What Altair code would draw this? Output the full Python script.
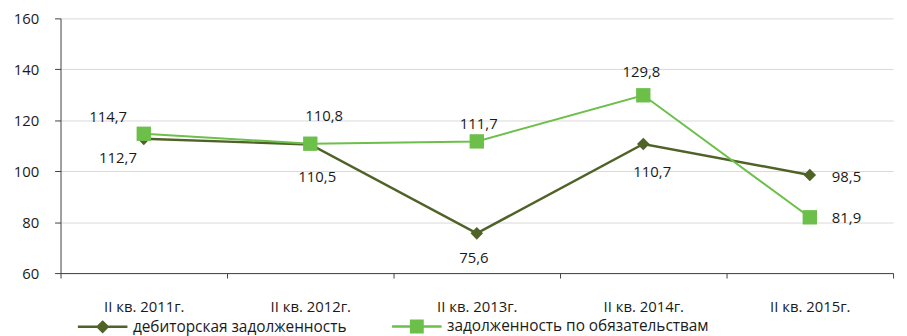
import altair as alt
import pandas as pd

categories = ["II кв. 2011г.", "II кв. 2012г.", "II кв. 2013г.", "II кв. 2014г.", "II кв. 2015г."]
receivables = [112.7, 110.5, 75.6, 110.7, 98.5]
payables = [114.7, 110.8, 111.7, 129.8, 81.9]
series_names = ["дебиторская задолженность", "задолженность по обязательствам"]
y_ticks = [60, 80, 100, 120, 140, 160]

colors = ["#4F6228", "#6CC04A"]
FONT = "Open Sans"
TXT = "#1a1a1a"

rows = []
for i, c in enumerate(categories):
    rows.append({"cat": c, "idx": i, "series": series_names[0], "sidx": 0, "value": receivables[i]})
    rows.append({"cat": c, "idx": i, "series": series_names[1], "sidx": 1, "value": payables[i]})
df = pd.DataFrame(rows)
df["label"] = df["value"].map(lambda v: f"{v:.1f}".replace(".", ","))

# label placement (dx, dy) per series / category
offsets = {
    (0, 0): (-26, 19), (0, 1): (7, 33), (0, 2): (-3, 25), (0, 3): (9, 28), (0, 4): (37, 2),
    (1, 0): (-36, -17), (1, 1): (14, -28), (1, 2): (2, -18), (1, 3): (-2, -23), (1, 4): (37, 1),
}

x_enc = alt.X(
    "cat:N", sort=categories,
    scale=alt.Scale(type="band", paddingInner=0, paddingOuter=0),
    axis=alt.Axis(title=None, labelAngle=0, tickBand="extent", grid=False,
                  domainColor="#404040", tickColor="#404040", tickSize=5,
                  labelPadding=22, labelFont=FONT, labelFontSize=15, labelColor=TXT),
)
y_enc = alt.Y(
    "value:Q",
    scale=alt.Scale(domain=[60, 160], nice=False, zero=False),
    axis=alt.Axis(title=None, values=y_ticks, grid=True, gridColor="#d9d9d9",
                  domainColor="#404040", tickColor="#404040", tickSize=6,
                  labelPadding=16, labelFont=FONT, labelFontSize=15, labelColor=TXT),
)
color_scale = alt.Scale(domain=series_names, range=colors)
legend_shapes = [
    "M-1,0L1,0M0,-0.2L0.2,0L0,0.2L-0.2,0Z",
    "M-1,0L1,0M-0.23,-0.23L0.23,-0.23L0.23,0.23L-0.23,0.23Z",
]

legend = alt.Legend(
    title=None, orient="none", legendX=16, legendY=284, direction="horizontal",
    symbolSize=2500, symbolStrokeWidth=2.5, labelOffset=4, columnPadding=40,
    labelFont=FONT, labelFontSize=15.5, labelColor=TXT, labelLimit=400,
    symbolOpacity=1,
)

base = alt.Chart(df)

line0 = base.transform_filter("datum.sidx == 0").mark_line(strokeWidth=2.5, color=colors[0]).encode(x=x_enc, y=y_enc)
line1 = base.transform_filter("datum.sidx == 1").mark_line(strokeWidth=2, color=colors[1]).encode(x=x_enc, y=y_enc)

pts0 = base.transform_filter("datum.sidx == 0").mark_point(
    shape="diamond", size=160, filled=True, opacity=1, color=colors[0]
).encode(x=x_enc, y=y_enc)
pts1 = base.transform_filter("datum.sidx == 1").mark_point(
    shape="square", size=210, filled=True, opacity=1, color=colors[1]
).encode(x=x_enc, y=y_enc)

# legend-only layer (no data rows drawn)
leg = base.transform_filter("false").mark_point(
    filled=True, size=2500, strokeWidth=2.5, opacity=1
).encode(
    x=x_enc, y=y_enc,
    color=alt.Color("series:N", scale=color_scale, legend=legend),
    stroke=alt.Stroke("series:N", scale=color_scale, legend=legend),
    shape=alt.Shape("series:N", scale=alt.Scale(domain=series_names, range=legend_shapes), legend=legend),
)

texts = []
for (s, i), (dx, dy) in offsets.items():
    texts.append(
        base.transform_filter(f"datum.sidx == {s} && datum.idx == {i}").mark_text(
            dx=dx, dy=dy, align="center", baseline="middle",
            font=FONT, fontSize=15, color=TXT,
        ).encode(x=x_enc, y=y_enc, text="label:N")
    )

chart = alt.layer(line0, line1, pts0, pts1, leg, *texts).properties(
    width=840, height=257,
    autosize=alt.AutoSizeParams(type="none"),
    padding={"left": 53, "top": 9, "right": 6, "bottom": 62},
).configure_view(stroke=None)

chart.save("out.html", embed_options={"renderer": "svg", "actions": False})
